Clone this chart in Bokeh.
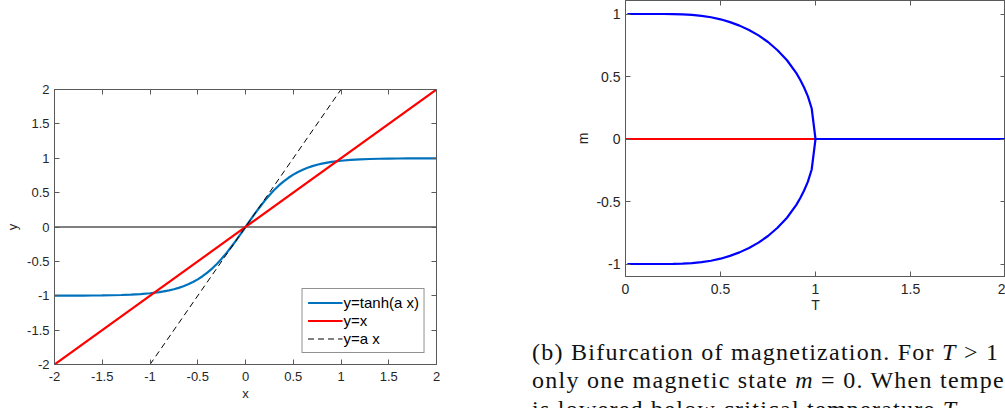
from bokeh.plotting import figure
from bokeh.layouts import row, column
from bokeh.models import Range1d, FixedTicker, LinearAxis, Legend, LegendItem, Div
from bokeh.embed import file_html
from bokeh.resources import INLINE

# ---------------- left panel data ----------------
x_tanh = [-2.0, -1.9, -1.8, -1.7, -1.6, -1.5, -1.4, -1.3, -1.2, -1.1, -1.0, -0.9, -0.8,
          -0.75, -0.7, -0.65, -0.6, -0.55, -0.5, -0.45, -0.4, -0.35, -0.3, -0.25, -0.2,
          -0.15, -0.1, -0.05, 0.0, 0.05, 0.1, 0.15, 0.2, 0.25, 0.3, 0.35, 0.4, 0.45, 0.5,
          0.55, 0.6, 0.65, 0.7, 0.75, 0.8, 0.9, 1.0, 1.1, 1.2, 1.3, 1.4, 1.5, 1.6, 1.7,
          1.8, 1.9, 2.0]
y_tanh = [-0.9993, -0.9990, -0.9985, -0.9978, -0.9967, -0.9951, -0.9926, -0.9890, -0.9837,
          -0.9757, -0.9640, -0.9468, -0.9217, -0.9051, -0.8854, -0.8617, -0.8337, -0.8005,
          -0.7616, -0.7163, -0.6640, -0.6044, -0.5370, -0.4621, -0.3799, -0.2913, -0.1974,
          -0.0997, 0.0, 0.0997, 0.1974, 0.2913, 0.3799, 0.4621, 0.5370, 0.6044, 0.6640,
          0.7163, 0.7616, 0.8005, 0.8337, 0.8617, 0.8854, 0.9051, 0.9217, 0.9468, 0.9640,
          0.9757, 0.9837, 0.9890, 0.9926, 0.9951, 0.9967, 0.9978, 0.9985, 0.9990, 0.9993]
x_identity = [-2.0, 2.0]
y_identity = [-2.0, 2.0]
x_linear = [-1.0, 1.0]
y_linear = [-2.0, 2.0]
x_zero = [-2.0, 2.0]
y_zero = [0.0, 0.0]
left_ticks = [-2, -1.5, -1, -0.5, 0, 0.5, 1, 1.5, 2]
left_tick_labels = ["-2", "-1.5", "-1", "-0.5", "0", "0.5", "1", "1.5", "2"]
legend_labels = ["y=tanh(a x)", "y=x", "y=a x"]

# ---------------- right panel data ----------------
T_branch = [0.01, 0.05, 0.1, 0.15, 0.2, 0.25, 0.3, 0.35, 0.4, 0.45, 0.5, 0.55, 0.6, 0.65,
            0.7, 0.75, 0.8, 0.85, 0.9, 0.92, 0.94, 0.96, 0.98, 1.0]
m_upper = [1.0, 1.0, 1.0, 1.0, 0.9999, 0.9993, 0.9975, 0.9931, 0.9856, 0.974, 0.9575,
           0.935, 0.907, 0.872, 0.829, 0.776, 0.710, 0.630, 0.525, 0.472, 0.412, 0.341,
           0.244, 0.0]
m_lower = [-1.0, -1.0, -1.0, -1.0, -0.9999, -0.9993, -0.9975, -0.9931, -0.9856, -0.974,
           -0.9575, -0.935, -0.907, -0.872, -0.829, -0.776, -0.710, -0.630, -0.525, -0.472,
           -0.412, -0.341, -0.244, 0.0]
T_para = [1.0, 2.0]
m_para = [0.0, 0.0]
T_red = [0.0, 1.0]
m_red = [0.0, 0.0]
right_xticks = [0, 0.5, 1, 1.5, 2]
right_xtick_labels = ["0", "0.5", "1", "1.5", "2"]
right_yticks = [-1, -0.5, 0, 0.5, 1]
right_ytick_labels = ["-1", "-0.5", "0", "0.5", "1"]
caption_lines = ["(b) Bifurcation of magnetization. For <i>T</i> &gt; 1",
                 "only one magnetic state <i>m</i> = 0. When temperature",
                 "is lowered below critical temperature <i>T</i><sub>c</sub>"]

FONT = "Liberation Sans"
TXT = "#262626"
AXL = "#5a5a5a"


def style_axis(ax, fs, ticks, labels, show_labels=True):
    ax.ticker = FixedTicker(ticks=ticks)
    ax.axis_line_color = AXL
    ax.major_tick_line_color = AXL
    ax.major_tick_in = 5
    ax.major_tick_out = 0
    ax.minor_tick_line_color = None
    ax.major_label_text_font = FONT
    ax.major_label_text_color = TXT
    ax.axis_label_text_font = FONT
    ax.axis_label_text_font_size = fs
    ax.axis_label_text_font_style = "normal"
    ax.axis_label_text_color = TXT
    if show_labels:
        ax.major_label_text_font_size = fs
        ax.major_label_overrides = {t: l for t, l in zip(ticks, labels)}
    else:
        ax.major_label_text_font_size = "0px"
        ax.major_label_overrides = {t: "" for t in ticks}
        ax.major_label_standoff = 0


# ---------------- left figure ----------------
p1 = figure(width=450, height=408, x_range=Range1d(-2, 2), y_range=Range1d(-2, 2),
            output_backend="svg", toolbar_location=None,
            min_border_left=54, min_border_right=14, min_border_top=89, min_border_bottom=44,
            x_axis_label="x", y_axis_label="y")
p1.frame_align = False
p1.xgrid.visible = False
p1.ygrid.visible = False
p1.outline_line_color = AXL
fs1 = "13px"
style_axis(p1.xaxis[0], fs1, left_ticks, left_tick_labels)
style_axis(p1.yaxis[0], fs1, left_ticks, left_tick_labels)
p1.xaxis[0].major_label_standoff = 7
p1.xaxis[0].axis_label_standoff = 2
p1.yaxis[0].major_label_standoff = 5
p1.yaxis[0].axis_label_standoff = 4
ax_r = LinearAxis()
style_axis(ax_r, fs1, left_ticks, left_tick_labels, show_labels=False)
p1.add_layout(ax_r, "right")
ax_t = LinearAxis()
style_axis(ax_t, fs1, left_ticks, left_tick_labels, show_labels=False)
p1.add_layout(ax_t, "above")

p1.line(x_zero, y_zero, line_color="black", line_width=1)
r_tanh = p1.line(x_tanh, y_tanh, line_color="#0072BD", line_width=2.2)
r_id = p1.line(x_identity, y_identity, line_color="#FF0000", line_width=2.2)
r_lin = p1.line(x_linear, y_linear, line_color="black", line_width=1, line_dash="6 4")

legend = Legend(items=[LegendItem(label=legend_labels[0], renderers=[r_tanh]),
                       LegendItem(label=legend_labels[1], renderers=[r_id]),
                       LegendItem(label=legend_labels[2], renderers=[r_lin])],
                location="bottom_right", margin=11, padding=5, spacing=1,
                glyph_width=35, glyph_height=15, label_height=15, label_standoff=1,
                label_text_font=FONT, label_text_font_size="15px", label_text_color="black",
                border_line_color=TXT, border_line_width=1, background_fill_alpha=1)
p1.add_layout(legend)

# ---------------- right figure ----------------
p2 = figure(width=555, height=320, x_range=Range1d(0, 2.0), y_range=Range1d(-1.1, 1.108),
            output_backend="svg", toolbar_location=None,
            min_border_left=175, min_border_right=0, min_border_top=0, min_border_bottom=44,
            x_axis_label="T", y_axis_label="m")
p2.frame_align = False
p2.xgrid.visible = False
p2.ygrid.visible = False
p2.outline_line_color = AXL
fs2 = "14px"
style_axis(p2.xaxis[0], fs2, right_xticks, right_xtick_labels)
style_axis(p2.yaxis[0], fs2, right_yticks, right_ytick_labels)
p2.xaxis[0].major_label_standoff = 7
p2.xaxis[0].axis_label_standoff = 0
p2.yaxis[0].major_label_standoff = 5
p2.yaxis[0].axis_label_standoff = 2
ax_r2 = LinearAxis()
style_axis(ax_r2, fs2, right_yticks, right_ytick_labels, show_labels=False)
p2.add_layout(ax_r2, "right")
ax_t2 = LinearAxis()
style_axis(ax_t2, fs2, right_xticks, right_xtick_labels, show_labels=False)
p2.add_layout(ax_t2, "above")

p2.line(T_red, m_red, line_color="#FF0000", line_width=2.2)
p2.line(T_branch, m_upper, line_color="#0000FF", line_width=2.2)
p2.line(T_branch, m_lower, line_color="#0000FF", line_width=2.2)
p2.line(T_para, m_para, line_color="#0000FF", line_width=2.2)

caption_html = ('<div style="font-family: \'Liberation Serif\', serif; font-size: 24px; '
                'line-height: 28.4px; white-space: nowrap; color: #111; letter-spacing: 1.25px; '
                'padding-left: 77px; padding-top: 13px; margin: 0;">'
                + "<br>".join(caption_lines) + "</div>")
caption = Div(text=caption_html, width=555, height=88, styles={"overflow": "hidden"})

layout = row(p1, column(p2, caption))
open("out.html", "w").write(file_html(layout, INLINE))
